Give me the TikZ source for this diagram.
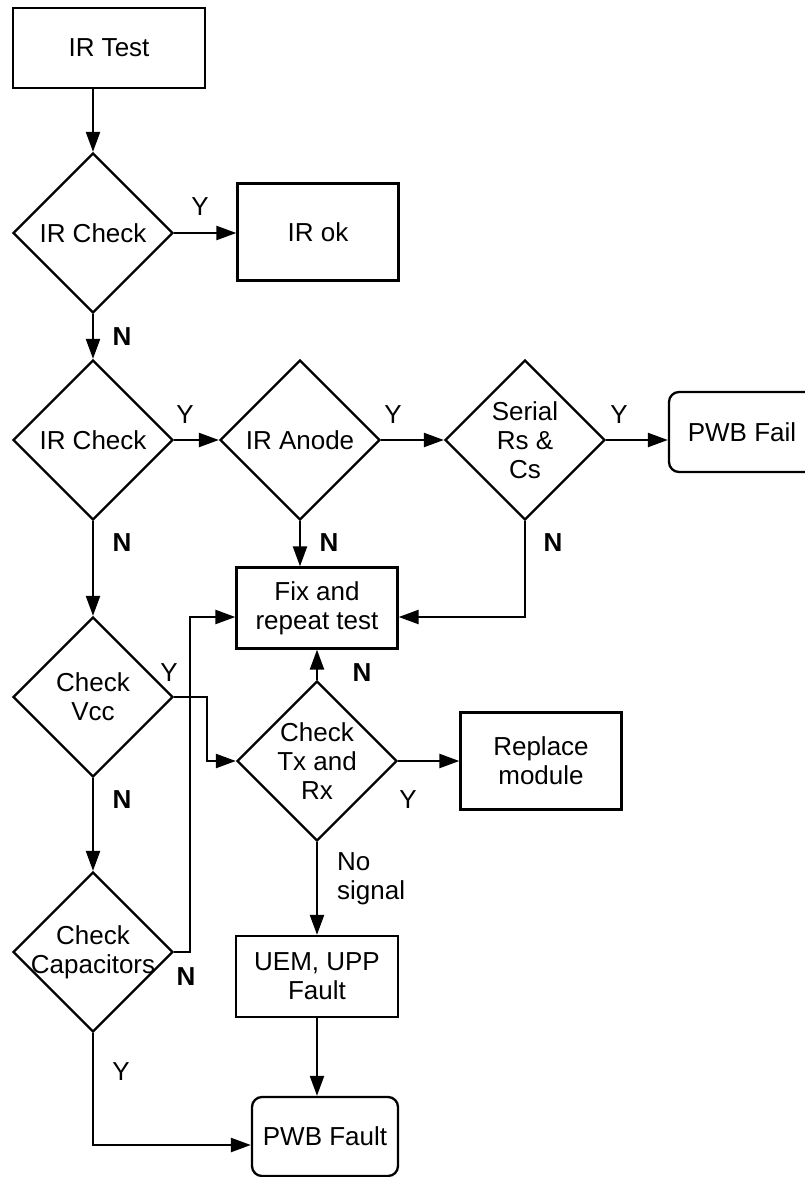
\documentclass[tikz,border=0pt]{standalone}
\usepackage{fontspec}
\setmainfont{Liberation Sans}
\usetikzlibrary{shapes.geometric,arrows.meta}
\begin{document}
\begin{tikzpicture}[x=1pt,y=-1pt,
  every node/.style={font=\fontsize{26}{29}\selectfont},
  box/.style={draw,line width=2.3pt,inner sep=0pt,align=center},
  rbox/.style={box,rounded corners=10pt},
  dia/.style={draw,diamond,line width=2.3pt,minimum width=160pt,minimum height=160pt,inner sep=0pt},
  txt/.style={align=center,inner sep=0pt},
  lab/.style={inner sep=0pt},
  nlab/.style={inner sep=0pt,font=\fontsize{26}{29}\selectfont\bfseries},
  conn/.style={line width=2.3pt,-{Triangle[length=20pt,width=14pt]}}]
\useasboundingbox (0,0) rectangle (805,1177);
% nodes
\node[box,minimum width=192,minimum height=80] (test) at (109,48) {IR Test};
\node[dia] (c1) at (93,233) {};
\node[txt] at (c1) {IR Check};
\node[box,minimum width=161,minimum height=97] (ok) at (318,232) {IR ok};
\node[dia] (c2) at (93,440) {};
\node[txt] at (c2) {IR Check};
\node[dia] (an) at (300,440) {};
\node[txt] at (an) {IR Anode};
\node[dia] (ser) at (525,440) {};
\node[txt] at (ser) {Serial\\Rs \&\\Cs};
\node[rbox,minimum width=170,minimum height=80] (fail) at (754,432) {\makebox[146pt]{PWB Fail}\hspace*{24pt}};
\node[box,minimum width=161,minimum height=81] (fix) at (317,608) {Fix and\\repeat test};
\node[dia] (vcc) at (93,697) {};
\node[txt] at (vcc) {Check\\Vcc};
\node[dia] (tx) at (317,761) {};
\node[txt] at (tx) {Check\\Tx and\\Rx};
\node[box,minimum width=161,minimum height=97] (rep) at (541,761) {Replace\\module};
\node[dia] (cap) at (93,952) {};
\node[txt] at (cap) {Check\\Capacitors};
\node[box,minimum width=162,minimum height=81] (uem) at (317,976.5) {UEM, UPP\\Fault};
\node[rbox,minimum width=146,minimum height=79] (pf) at (325,1136.5) {PWB Fault};
\coordinate (fixR) at ([yshift=-9pt]fix.east);
\coordinate (fixL) at ([yshift=-9pt]fix.west);
\coordinate (pfL) at ([yshift=-8.5pt]pf.west);
% connectors
\draw[conn] (test.south -| c1.north) -- (c1.north);
\draw[conn] (c1.east) -- (c1.east -| ok.west);
\draw[conn] (c1.south) -- (c2.north);
\draw[conn] (c2.east) -- (an.west);
\draw[conn] (an.east) -- (ser.west);
\draw[conn] (ser.east) -- (ser.east -| fail.west);
\draw[conn] (an.south) -- (an.south |- fix.north);
\draw[conn] (ser.south) |- (fixR);
\draw[conn] (c2.south) -- (vcc.north);
\draw[conn] (vcc.east) -- ++(33,0) |- (tx.west);
\draw[conn] (tx.north) -- (fix.south);
\draw[conn] (tx.east) -- (rep.west);
\draw[conn] (tx.south) -- (uem.north);
\draw[conn] (uem.south) -- (uem.south |- pf.north);
\draw[conn] (vcc.south) -- (cap.north);
\draw[conn] (cap.east) -- ++(16,0) |- (fixL);
\draw[conn] (cap.south) |- (pfL);
% labels
\node[lab] at (200,207) {Y};
\node[nlab] at (122,337) {N};
\node[lab] at (185,415) {Y};
\node[lab] at (393,415) {Y};
\node[lab] at (619,415) {Y};
\node[nlab] at (122,543) {N};
\node[nlab] at (329,543) {N};
\node[nlab] at (553,543) {N};
\node[nlab] at (362,673) {N};
\node[lab] at (169,673) {Y};
\node[lab] at (408,800) {Y};
\node[nlab] at (122,800) {N};
\node[lab,align=left,anchor=west] at (337,879) {No\\signal};
\node[nlab] at (186,977) {N};
\node[lab] at (121,1072) {Y};
\end{tikzpicture}
\end{document}
